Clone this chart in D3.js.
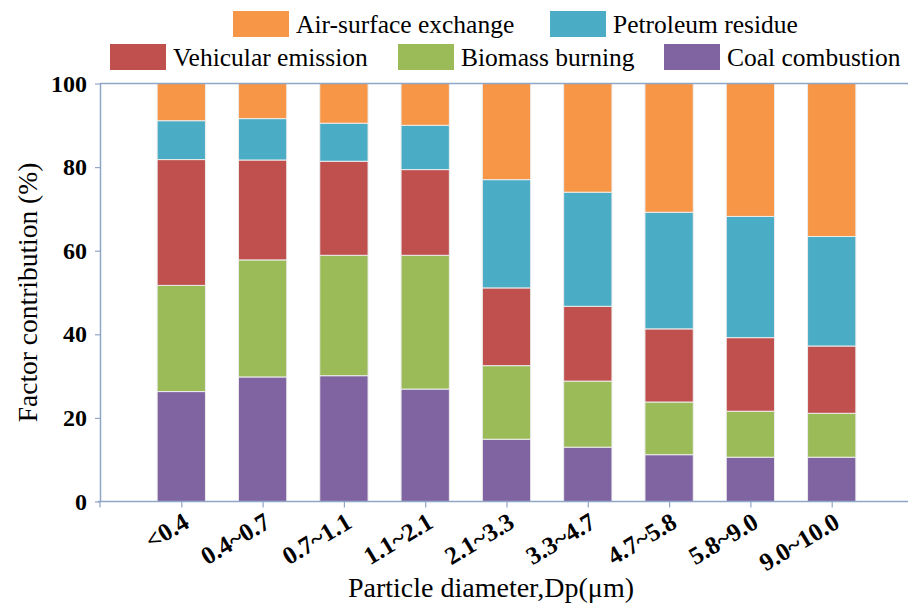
<!DOCTYPE html>
<html>
<head>
<meta charset="utf-8">
<script src="https://cdn.jsdelivr.net/npm/d3@7"></script>
<style>
  html, body { margin: 0; padding: 0; background: #fff; }
  svg { display: block; }
  svg text { font-family: "Liberation Serif", "Times New Roman", serif; fill: #000; }
</style>
</head>
<body>
<svg id="chart" width="908" height="603"></svg>
<script>
// Size-resolved source apportionment (% contribution of each factor)
const categories = ["<0.4", "0.4~0.7", "0.7~1.1", "1.1~2.1", "2.1~3.3", "3.3~4.7", "4.7~5.8", "5.8~9.0", "9.0~10.0"];
const coalCombustion     = [26.3, 29.8, 30.1, 26.9, 14.9, 13.0, 11.2, 10.6, 10.6];
const biomassBurning     = [25.4, 28.0, 28.8, 32.0, 17.6, 15.8, 12.6, 11.0, 10.5];
const vehicularEmission  = [30.1, 23.9, 22.5, 20.5, 18.6, 17.9, 17.5, 17.6, 16.1];
const petroleumResidue   = [9.3, 9.9, 9.1, 10.6, 25.9, 27.3, 27.9, 29.0, 26.2];
const airSurfaceExchange = [8.9, 8.4, 9.5, 10.0, 23.0, 26.0, 30.8, 31.8, 36.6];
const seriesNames = ["Coal combustion", "Biomass burning", "Vehicular emission", "Petroleum residue", "Air-surface exchange"];
const seriesColors = ["#8064a2", "#9bbb59", "#c0504d", "#4bacc6", "#f79646"];
const yTicks = [0, 20, 40, 60, 80, 100];

const seriesValues = [coalCombustion, biomassBurning, vehicularEmission, petroleumResidue, airSurfaceExchange];
const rows = categories.map((c, i) => {
  const r = { cat: c };
  seriesNames.forEach((s, k) => { r[s] = seriesValues[k][i]; });
  return r;
});

const serif = "'Liberation Serif', 'Times New Roman', serif";
const svg = d3.select("#chart");
const axisColor = "#8fa6c6";
const plotLeft = 100, plotTop = 83.5, plotBottom = 501.5, plotRight = 913;
const step = (plotRight - plotLeft) / 10;

const x = d3.scalePoint().domain(categories).range([plotLeft + step, plotLeft + step * 9]);
const barW = step * 0.594;
const y = d3.scaleLinear().domain([0, 100]).range([plotBottom, plotTop]);
const color = d3.scaleOrdinal().domain(seriesNames).range(seriesColors);

const stacked = d3.stack().keys(seriesNames)(rows);

// stacked bars
svg.append("g").selectAll("g").data(stacked).join("g")
  .attr("fill", d => color(d.key))
  .selectAll("rect").data(d => d).join("rect")
  .attr("x", d => x(d.data.cat) - barW / 2)
  .attr("y", d => y(d[1]))
  .attr("width", barW)
  .attr("height", d => y(d[0]) - y(d[1]))
  .attr("stroke", "#ececec")
  .attr("stroke-width", 1);

// frame: top border
svg.append("line")
  .attr("x1", plotLeft).attr("x2", plotRight)
  .attr("y1", y(100)).attr("y2", y(100))
  .attr("stroke", axisColor).attr("stroke-width", 1.5);

// y axis
const yAxis = svg.append("g")
  .attr("transform", `translate(${plotLeft},0)`)
  .call(d3.axisLeft(y).tickValues(yTicks).tickSize(5).tickPadding(8).tickSizeOuter(0));
yAxis.attr("font-family", serif);
yAxis.select(".domain").attr("stroke", axisColor).attr("stroke-width", 1.5);
yAxis.selectAll(".tick line").attr("stroke", axisColor).attr("stroke-width", 1.2);
yAxis.selectAll(".tick text")
  .style("font-family", serif)
  .style("font-size", "24px").style("font-weight", "bold").attr("fill", "#000");

// x axis
const xAxis = svg.append("g")
  .attr("transform", `translate(0,${plotBottom})`)
  .call(d3.axisBottom(x).tickSize(6).tickSizeOuter(0));
xAxis.attr("font-family", serif);
xAxis.select(".domain").remove();
xAxis.append("line")
  .attr("x1", plotLeft - 2).attr("x2", plotRight).attr("y1", 0).attr("y2", 0)
  .attr("stroke", axisColor).attr("stroke-width", 1.5);
xAxis.append("line")
  .attr("x1", plotLeft).attr("x2", plotLeft).attr("y1", 0).attr("y2", 6)
  .attr("stroke", axisColor).attr("stroke-width", 1.2);
xAxis.selectAll(".tick line").attr("stroke", axisColor).attr("stroke-width", 1.2);
xAxis.selectAll(".tick text")
  .style("font-family", serif)
  .style("font-size", "25px").style("font-weight", "bold").attr("fill", "#000")
  .attr("text-anchor", "end")
  .attr("x", 0).attr("y", 0).attr("dy", 0)
  .attr("transform", "translate(9,25) rotate(-31)");

// axis titles
svg.append("text")
  .attr("x", 491).attr("y", 597)
  .attr("text-anchor", "middle")
  .style("font-family", serif)
  .style("font-size", "28px")
  .text("Particle diameter,Dp(μm)");

svg.append("text")
  .attr("transform", `translate(37,${(plotTop + plotBottom) / 2}) rotate(-90)`)
  .attr("text-anchor", "middle")
  .style("font-family", serif)
  .style("font-size", "27.5px")
  .text("Factor contribution (%)");

// legend
const legendItems = [
  { name: "Air-surface exchange", x: 233, y: 11 },
  { name: "Petroleum residue", x: 550, y: 11 },
  { name: "Vehicular emission", x: 110, y: 44 },
  { name: "Biomass burning", x: 398, y: 44 },
  { name: "Coal combustion", x: 664, y: 44 }
];
const lg = svg.append("g").selectAll("g").data(legendItems).join("g")
  .attr("transform", d => `translate(${d.x},${d.y})`);
lg.append("rect")
  .attr("width", 56).attr("height", 26)
  .attr("fill", d => color(d.name));
lg.append("text")
  .attr("x", 63).attr("y", 22)
  .style("font-family", serif)
  .style("font-size", "25.5px")
  .text(d => d.name);
</script>
</body>
</html>
